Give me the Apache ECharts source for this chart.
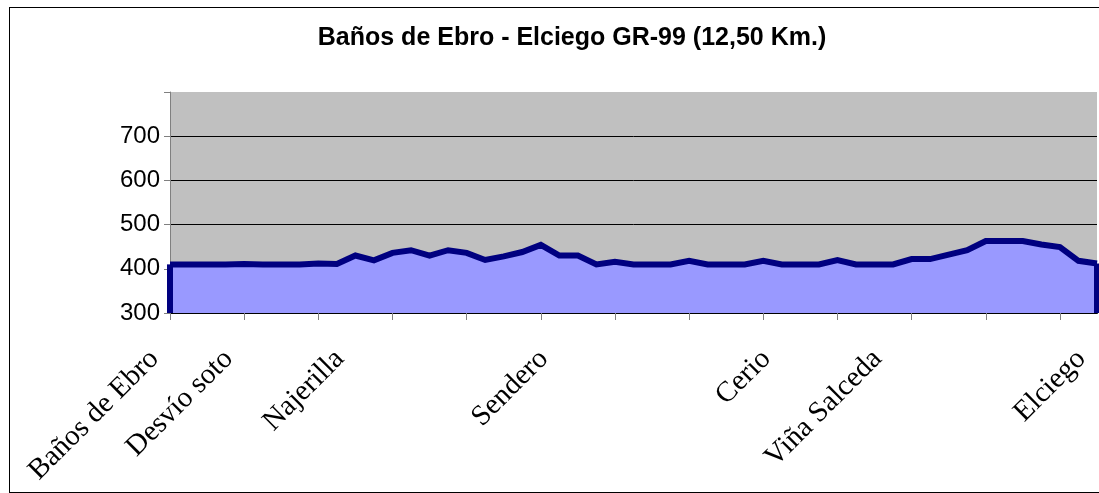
<!DOCTYPE html>
<html lang="es">
<head>
    <meta charset="UTF-8">
    <title>Baños de Ebro - Elciego</title>
    <style>
        body{
            margin: 0;
            background: #ffffff;
        }
        .marco{
            position: absolute;
            left: 9px;
            top: 7px;
            width: 1100px;
            height: 484px;
            border: 1px solid #000;
        }
        .dis{
            position: absolute;
            left: 0;
            top: 0;
            width: 1099px;
            height: 493px;
        }
    </style>
    <script src="https://cdn.jsdelivr.net/npm/echarts@6/dist/echarts.min.js"></script>
</head>
<body>
<div class="marco"></div>
<div class="dis"></div>
</body>
<script>
    // puntos del recorrido (solo algunos tienen nombre)
    var puntos = [
        "Baños de Ebro", "", "", "", "Desvío soto", "", "", "", "", "",
        "Najerilla", "", "", "", "", "", "", "", "", "",
        "", "Sendero", "", "", "", "", "", "", "", "",
        "", "", "", "Cerio", "", "", "", "", "", "Viña Salceda",
        "", "", "", "", "", "", "", "", "", "",
        "Elciego"
    ];
    // altitud en metros
    var altitud = [
        410, 410, 410, 410, 411, 410, 410, 410, 412, 411,
        430, 419, 436, 442, 430, 442, 436, 420, 428, 438,
        454, 430, 430, 410, 416, 410, 410, 410, 418, 410,
        410, 410, 418, 410, 410, 410, 420, 410, 410, 410,
        422, 422, 432, 442, 463, 463, 463, 455, 449, 418,
        412
    ];
    var ejeY = [300, 400, 500, 600, 700, 800];

    var dis = document.getElementsByClassName("dis")[0];
    var my_dis = echarts.init(dis);
    var ultimo = altitud.length - 1;

    var option = {
        animation: false,
        title: {
            text: "Baños de Ebro - Elciego GR-99 (12,50 Km.)",
            left: 567,
            textAlign: "center",
            top: 21,
            textStyle: {
                fontFamily: "Liberation Sans, Arial",
                fontWeight: "bold",
                fontSize: 25,
                color: "#000"
            }
        },
        grid: {
            left: 170,
            right: 2,
            top: 92,
            bottom: 180,
            show: true,
            backgroundColor: "#c0c0c0",
            borderWidth: 0
        },
        xAxis: {
            type: "category",
            data: puntos,
            boundaryGap: false,
            axisLine: {lineStyle: {color: "#000", width: 2}},
            axisTick: {
                length: 7,
                lineStyle: {color: "#808080"},
                interval: function (i) { return i % 4 === 0; }
            },
            axisLabel: {
                interval: 0,
                rotate: 45,
                margin: 26,
                padding: [0, 22, 0, 0],
                fontFamily: "Liberation Serif, Times New Roman",
                fontSize: 29,
                color: "#000"
            },
            splitLine: {show: false}
        },
        yAxis: {
            type: "value",
            min: ejeY[0],
            max: ejeY[ejeY.length - 1],
            interval: 100,
            axisLine: {show: true, lineStyle: {color: "#808080", width: 1}},
            axisTick: {show: true, length: 6, lineStyle: {color: "#808080"}},
            axisLabel: {
                margin: 10,
                fontFamily: "Liberation Sans, Arial",
                fontSize: 24,
                color: "#000",
                formatter: function (v) { return v === ejeY[ejeY.length - 1] ? "" : v; }
            },
            splitLine: {
                show: true,
                lineStyle: {color: ["#000", "#000", "#000", "#000", "#000", "rgba(0,0,0,0)"], width: 1}
            }
        },
        series: [
            {
                name: "Altitud",
                type: "line",
                data: altitud,
                showSymbol: false,
                lineStyle: {color: "#000080", width: 6, join: "miter"},
                itemStyle: {color: "#000080"},
                areaStyle: {color: "#9999ff", opacity: 1, origin: "start"},
                markLine: {
                    silent: true,
                    symbol: "none",
                    label: {show: false},
                    lineStyle: {color: "#000080", width: 6, type: "solid"},
                    data: [
                        [{coord: [0, ejeY[0]]}, {coord: [0, altitud[0]]}],
                        [{coord: [ultimo, ejeY[0]]}, {coord: [ultimo, altitud[ultimo]]}]
                    ]
                }
            }
        ]
    };
    my_dis.setOption(option);
</script>
</html>
